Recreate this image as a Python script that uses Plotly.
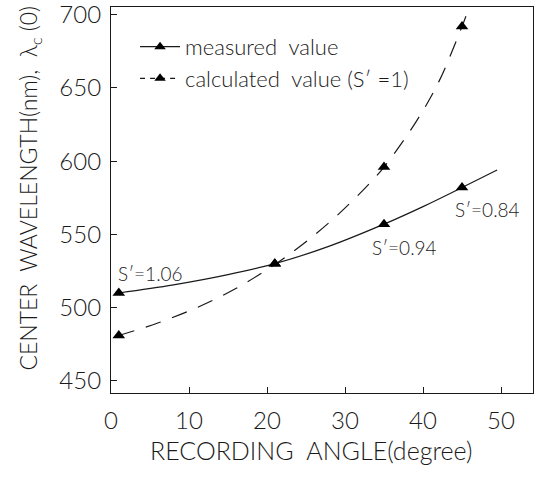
import plotly.graph_objects as go

# Data
angle_pts = [1, 21, 35, 45]
measured_pts = [510, 530, 557, 582]
calculated_pts = [481, 530, 596, 692]

# Points
meas_curve_x = [1, 8, 15, 21, 28, 35, 40, 45, 49.5]
meas_curve_y = [510, 515.5, 522.5, 530, 542, 557, 569, 582, 594]
calc_curve_x = [1, 6, 11, 16, 21, 25, 29, 33, 35, 39, 42, 45, 45.5]
calc_curve_y = [481, 489.5, 500, 513, 529.5, 545, 563, 584, 596, 626, 654, 692, 699]

# Labels of S' values
s_labels = ["S′=1.06", "S′=0.94", "S′=0.84"]
s_x = [5.0, 37.6, 48.3]
s_y = [523.6, 541.4, 566.7]

x_ticks = [0, 10, 20, 30, 40, 50]
y_ticks = [450, 500, 550, 600, 650, 700]

FONT = "Lato"
INK = "#1a1a1a"
DASH = "16px,12px"

fig = go.Figure()

fig.add_trace(go.Scatter(
    x=meas_curve_x, y=meas_curve_y, mode="lines", line_shape="spline",
    line=dict(color=INK, width=1.2), showlegend=False, hoverinfo="skip"))
fig.add_trace(go.Scatter(
    x=calc_curve_x, y=calc_curve_y, mode="lines", line_shape="spline",
    line=dict(color=INK, width=1.2, dash=DASH), showlegend=False, hoverinfo="skip"))

fig.add_trace(go.Scatter(
    x=angle_pts, y=measured_pts, mode="markers", showlegend=False,
    marker=dict(symbol="triangle-up", size=11, color="black")))
fig.add_trace(go.Scatter(
    x=angle_pts, y=calculated_pts, mode="markers", showlegend=False,
    marker=dict(symbol="triangle-up", size=11, color="black")))

# legend-only entries
fig.add_trace(go.Scatter(
    x=[None], y=[None], mode="lines+markers", name="measured  value",
    line=dict(color=INK, width=1.2),
    marker=dict(symbol="triangle-up", size=10, color="black")))
fig.add_trace(go.Scatter(
    x=[None], y=[None], mode="lines+markers", name="calculated  value (S′ =1)",
    line=dict(color=INK, width=1.2, dash="5px,5px"),
    marker=dict(symbol="triangle-up", size=10, color="black")))

for t, xx, yy in zip(s_labels, s_x, s_y):
    fig.add_annotation(x=xx, y=yy, text=t, showarrow=False,
                       font=dict(family=FONT, size=19, color=INK, weight=300))

# axis titles as annotations (positioned like the reference)
fig.add_annotation(xref="paper", yref="paper", x=0.474, y=-0.148,
                   text="RECORDING  ANGLE(degree)", showarrow=False,
                   xanchor="center", yanchor="middle",
                   font=dict(family=FONT, size=25, color=INK, weight=300))
fig.add_annotation(xref="paper", yref="paper", x=-0.194, y=0.53,
                   text="CENTER  WAVELENGTH(nm),  λ<sub>c</sub> (0)", showarrow=False,
                   textangle=-90, xanchor="center", yanchor="middle",
                   font=dict(family=FONT, size=23, color=INK, weight=300))

axis_common = dict(
    showline=True, linecolor=INK, linewidth=1.2, mirror=True,
    ticks="inside", ticklen=6, tickcolor=INK, tickwidth=1,
    showgrid=False, zeroline=False, ticklabeloverflow="allow", automargin=False,
    tickfont=dict(family=FONT, size=24, color=INK, weight=300),
)

fig.update_xaxes(range=[0, 54.1], tickvals=x_ticks, ticklabelstandoff=6, **axis_common)
fig.update_yaxes(range=[441.7, 705.3], tickvals=y_ticks, ticklabelstandoff=4, **axis_common)

fig.update_layout(
    width=540, height=478,
    margin=dict(l=111, r=7, t=7, b=85, autoexpand=False),
    plot_bgcolor="white", paper_bgcolor="white",
    font=dict(family=FONT, color=INK),
    legend=dict(x=0.057, y=0.951, xanchor="left", yanchor="top",
                bgcolor="rgba(0,0,0,0)",
                font=dict(family=FONT, size=22, color=INK, weight=300),
                itemwidth=40, tracegroupgap=0),
)

fig.write_html("out.html")
